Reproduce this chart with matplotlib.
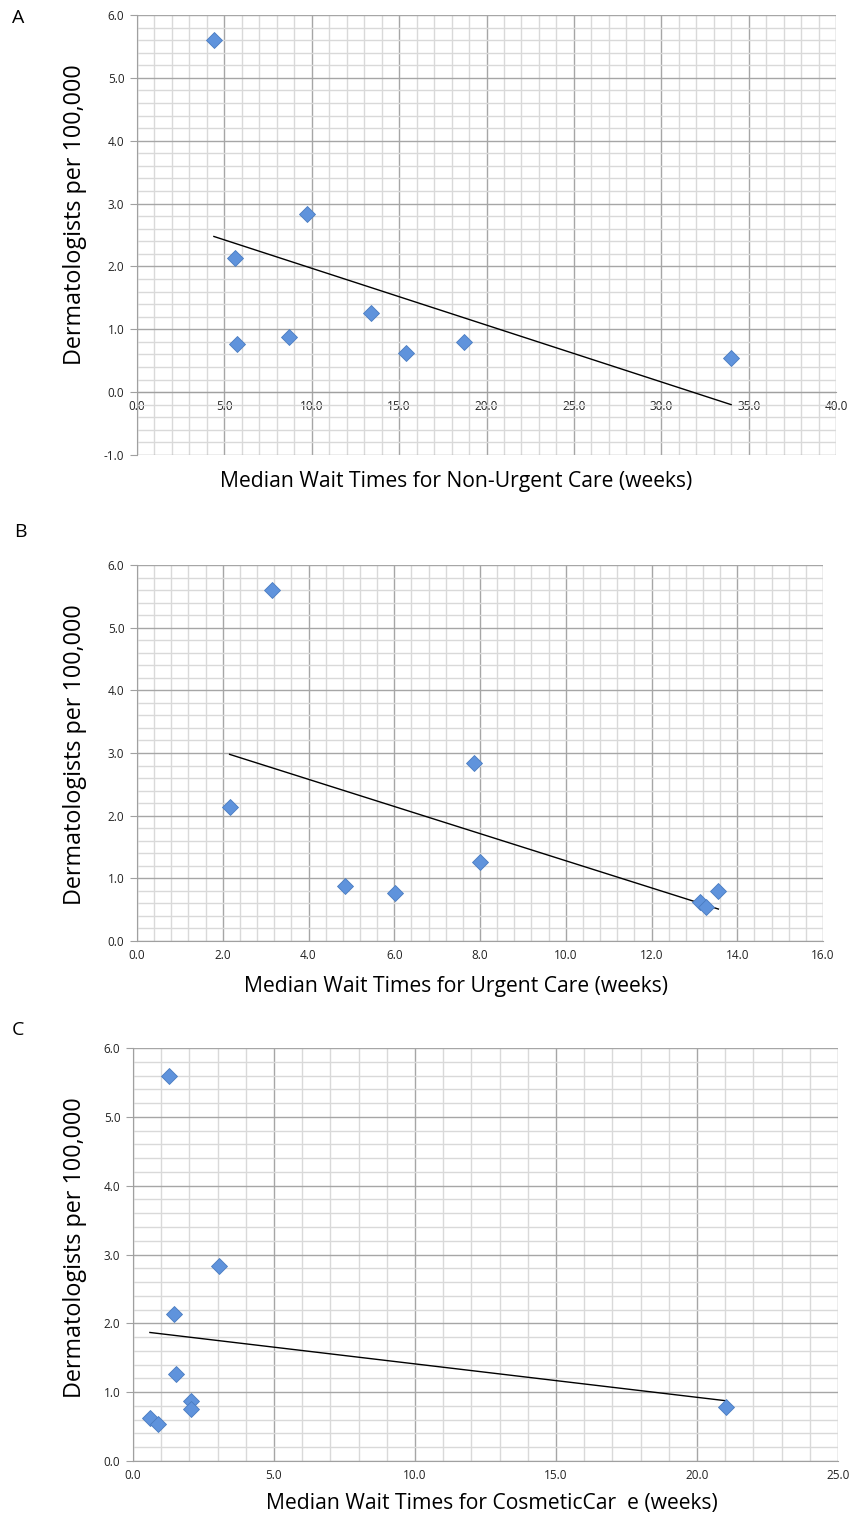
import numpy as np
import matplotlib.pyplot as plt
from matplotlib.ticker import MultipleLocator, FormatStrFormatter

plt.rcParams['font.family'] = ['Open Sans', 'DejaVu Sans']

# dermatologists per 100,000 (same nine regions in every panel)
derm = [5.60, 2.84, 2.14, 1.26, 0.87, 0.76, 0.79, 0.62, 0.54]

# median wait times (weeks)
wait_nonurgent = [4.4, 9.7, 5.6, 13.4, 8.7, 5.7, 18.7, 15.4, 34.0]
wait_urgent = [3.16, 7.86, 2.16, 8.0, 4.86, 6.02, 13.56, 13.14, 13.26]
wait_cosmetic = [1.28, 3.04, 1.46, 1.53, 2.04, 2.04, 21.02, 0.60, 0.90]

ylabel = "Dermatologists per 100,000"
xlabels = ["Median Wait Times for Non-Urgent Care (weeks)",
           "Median Wait Times for Urgent Care (weeks)",
           "Median Wait Times for CosmeticCar  e (weeks)"]
letters = ["A", "B", "C"]

fig = plt.figure(figsize=(8.52, 15.19), dpi=100)

W, H = 852, 1519
# plot area boxes in pixels: left, top, right, bottom
boxes = [(137, 15, 836, 455), (137, 565, 823, 941), (133, 1048, 838, 1461)]
limits = [((0, 40), (-1, 6)), ((0, 16), (0, 6)), ((0, 25), (0, 6))]
xsteps = [(5, 1), (2, 0.4), (5, 1)]
waits = [wait_nonurgent, wait_urgent, wait_cosmetic]
xlab_pos = [(456, 482), (456, 987), (492, 1503)]
ylab_pos = [(75, 215), (75, 755), (75, 1248)]
letter_pos = [(18, 18), (20, 532), (18, 1030)]

for i in range(3):
    l, t, r, b = boxes[i]
    ax = fig.add_axes([l / W, 1 - b / H, (r - l) / W, (b - t) / H])
    ax.set_xlim(*limits[i][0])
    ax.set_ylim(*limits[i][1])

    ax.xaxis.set_major_locator(MultipleLocator(xsteps[i][0]))
    ax.xaxis.set_minor_locator(MultipleLocator(xsteps[i][1]))
    ax.yaxis.set_major_locator(MultipleLocator(1.0))
    ax.yaxis.set_minor_locator(MultipleLocator(0.2))
    ax.xaxis.set_major_formatter(FormatStrFormatter('%.1f'))
    ax.yaxis.set_major_formatter(FormatStrFormatter('%.1f'))

    ax.grid(which='minor', color='#d9d9d9', linewidth=1.0)
    ax.grid(which='major', color='#a6a6a6', linewidth=1.0)
    ax.set_axisbelow(True)

    for s in ['top', 'right']:
        ax.spines[s].set_visible(False)
    ax.spines['left'].set_color('#a0a0a0')
    ax.spines['bottom'].set_color('#a0a0a0')
    if i == 0:
        ax.spines['bottom'].set_position(('data', 0))

    ax.tick_params(axis='x', which='both', length=0, labelsize=8.5,
                   pad=6, labelcolor='#222222')
    ax.tick_params(axis='y', which='major', length=5, color='#a0a0a0',
                   labelsize=8.5, pad=4, labelcolor='#222222')
    ax.tick_params(axis='y', which='minor', length=0)

    x = np.array(waits[i])
    y = np.array(derm)
    # linear trend line over the data range
    k, c = np.polyfit(x, y, 1)
    xt = np.array([x.min(), x.max()])
    ax.plot(xt, k * xt + c, color='black', linewidth=1.0, zorder=3)

    ax.plot(x, y, linestyle='none', marker='D', markersize=8.5,
            markerfacecolor='#5f93dc', markeredgecolor='#4a7cc0',
            markeredgewidth=0.6, zorder=4, clip_on=False)

    fig.text(xlab_pos[i][0] / W, 1 - xlab_pos[i][1] / H, xlabels[i],
             fontsize=15.2, ha='center', va='center')
    fig.text(ylab_pos[i][0] / W, 1 - ylab_pos[i][1] / H, ylabel,
             fontsize=16.8, ha='center', va='center', rotation=90)
    fig.text(letter_pos[i][0] / W, 1 - letter_pos[i][1] / H, letters[i],
             fontsize=14, ha='center', va='center')

fig.savefig("out.png", dpi=100)
